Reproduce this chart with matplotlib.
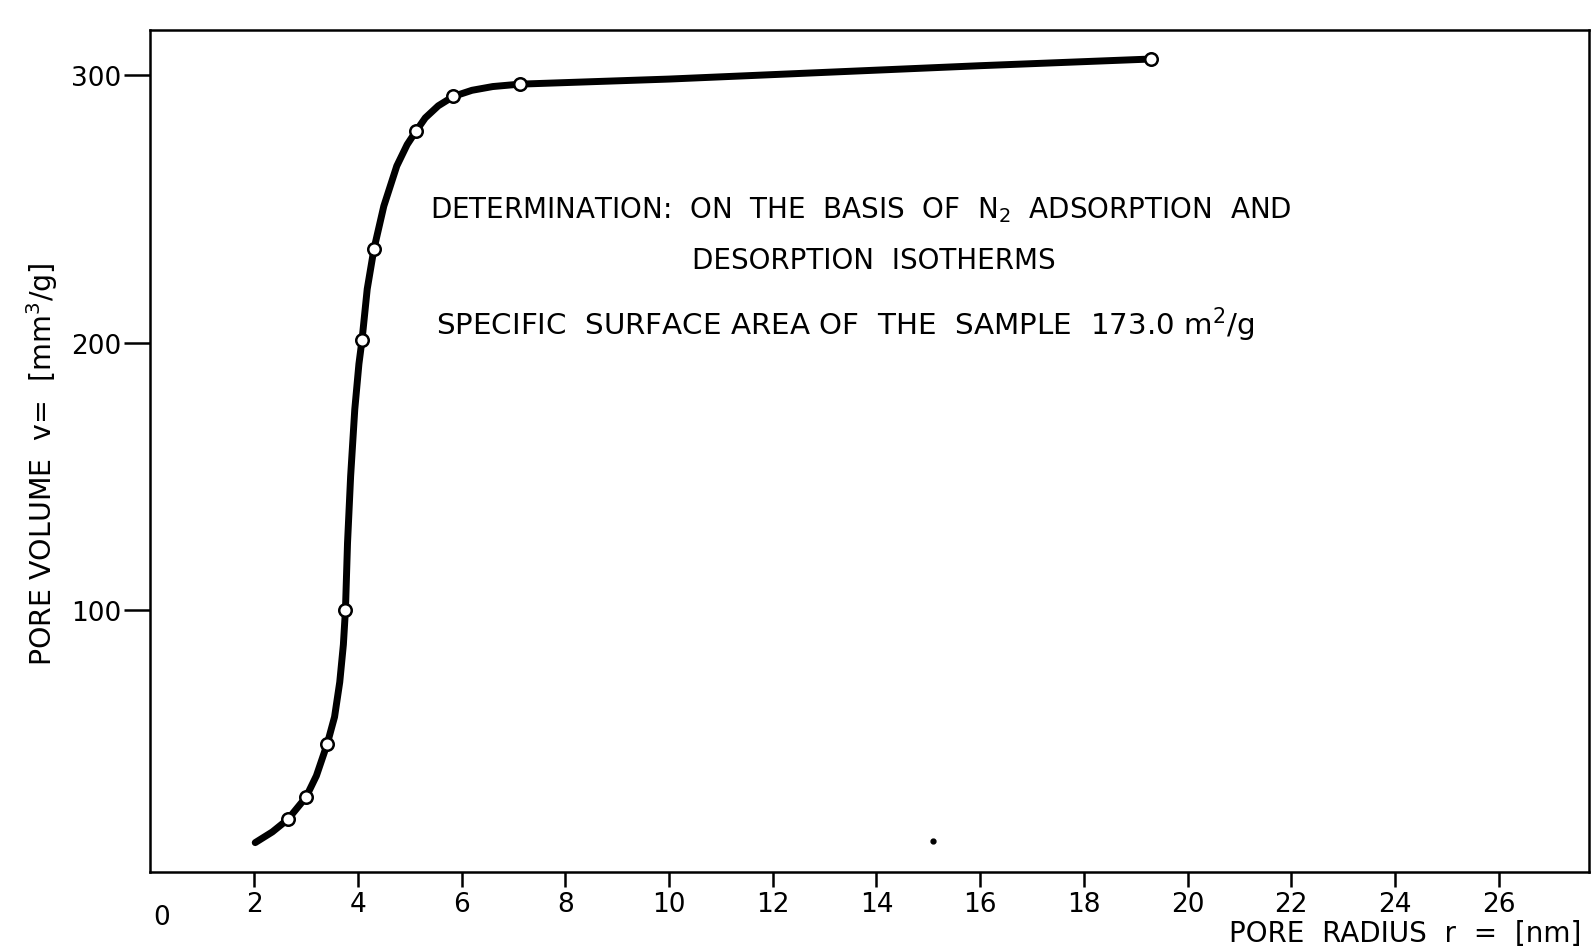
import matplotlib
matplotlib.use("Agg")
import matplotlib.pyplot as plt

# measured points (open circles)
radius_pts = [2.65, 3.0, 3.41, 3.76, 4.08, 4.31, 5.12, 5.84, 7.12, 19.3]
volume_pts = [21.7, 30, 50, 100, 201, 235, 279, 292, 296.6, 306]

# trace of the drawn smooth curve
curve_r = [2.02, 2.35, 2.65, 3.0, 3.2, 3.41, 3.55, 3.65, 3.72, 3.76, 3.80, 3.86,
           3.94, 4.02, 4.08, 4.18, 4.31, 4.5, 4.75, 4.95, 5.12, 5.3, 5.55, 5.84,
           6.2, 6.6, 7.12, 10.0, 13.0, 16.0, 19.3]
curve_v = [13, 17, 21.7, 30, 38, 50, 60, 73, 87, 100, 125, 150,
           175, 192, 201, 220, 235, 251, 266, 274, 279, 284, 288.5, 292,
           294.3, 295.7, 296.6, 298.5, 301, 303.5, 306]

speck_r = [15.1]
speck_v = [13.7]

xticks = [2, 4, 6, 8, 10, 12, 14, 16, 18, 20, 22, 24, 26]
yticks = [100, 200, 300]

fig = plt.figure(figsize=(15.94, 9.53), dpi=100)
ax = fig.add_axes([0.0944, 0.0839, 0.9024, 0.884])

ax.plot(curve_r, curve_v, color="black", lw=5, solid_capstyle="round",
        solid_joinstyle="round", zorder=2)
ax.plot(radius_pts, volume_pts, linestyle="none", marker="o", ms=9,
        mfc="white", mec="black", mew=1.8, zorder=3)
ax.plot(speck_r, speck_v, linestyle="none", marker="o", ms=3.5, color="black")

ax.set_xlim(0, 27.74)
ax.set_ylim(2, 317)
ax.set_xticks(xticks)
ax.set_xticklabels([str(t) for t in xticks])
ax.set_yticks(yticks)
ax.set_yticklabels([str(t) for t in yticks])

for s in ax.spines.values():
    s.set_linewidth(1.8)
ax.tick_params(axis="x", direction="out", length=11, width=1.8, pad=3, labelsize=19)
ax.tick_params(axis="y", direction="out", length=19, width=1.8, pad=2, labelsize=19)

ax.text(0.05, -10, "0", fontsize=19, ha="left", va="top")

ax.set_ylabel("PORE VOLUME  v=  [mm$^3$/g]", fontsize=20.5, labelpad=24)
ax.yaxis.set_label_coords(-0.063, 0.485)
fig.text(0.992, 0.02, "PORE  RADIUS  r  =  [nm]", fontsize=20, ha="right", va="center")

ax.text(13.7, 250, "DETERMINATION:  ON  THE  BASIS  OF  N$_2$  ADSORPTION  AND",
        fontsize=20, ha="center", va="center")
ax.text(13.95, 231, "DESORPTION  ISOTHERMS", fontsize=20, ha="center", va="center")
ax.text(13.4, 207, "SPECIFIC  SURFACE AREA OF  THE  SAMPLE  173.0 m$^2$/g",
        fontsize=21.2, ha="center", va="center")

fig.savefig("out.png", dpi=100)
